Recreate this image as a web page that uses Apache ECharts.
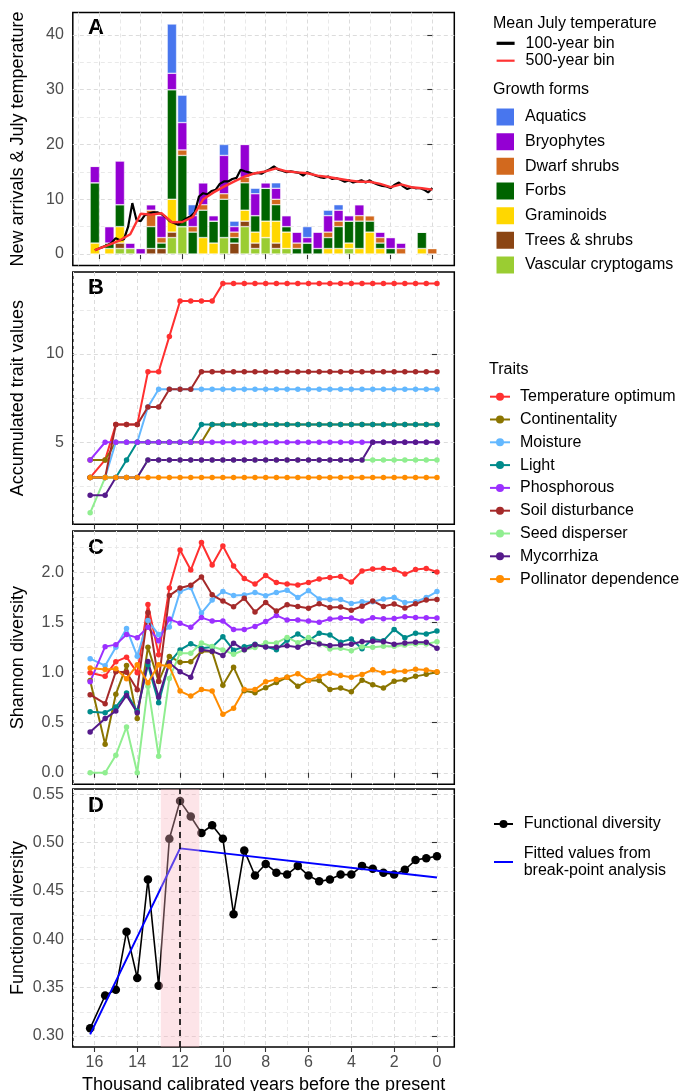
<!DOCTYPE html>
<html><head><meta charset="utf-8">
<script src="https://cdn.jsdelivr.net/npm/echarts@6/dist/echarts.min.js"></script>
<style>html,body{margin:0;padding:0;background:#fff}#c{width:679px;height:1091px}</style>
</head><body><div id="c"></div>
<script>
// ---------- DATA ----------
const ages = [16.2,15.5,15,14.5,14,13.5,13,12.5,12,11.5,11,10.5,10,9.5,9,8.5,8,7.5,7,6.5,6,5.5,5,4.5,4,3.5,3,2.5,2,1.5,1,0.5,0];

// Panel A: new arrivals per growth form
const vascularCryptogams = [0,0,1,1,0,0,0,3,5,0,0,0,3,0,5,1,3,1,1,0,0,0,0,0,1,0,0,0,0,0,0,0,0];
const treesShrubs        = [0,0,1,0,0,1,1,1,0,0,0,0,0,2,1,1,0,1,0,0,0,0,0,0,0,0,0,0,0,0,0,0,0];
const graminoids         = [2,1,3,0,0,0,0,6,0,0,3,2,0,0,2,2,3,4,3,0,0,0,1,1,1,1,4,1,0,0,0,1,0];
const forbs              = [11,1,4,0,0,4,1,20,13,4,5,4,7,1,5,3,6,3,1,1,2,1,2,4,4,5,2,1,1,0,0,3,0];
const dwarfShrubs        = [0,0,0,0,0,3,1,0,1,1,1,0,1,1,1,0,0,1,0,1,0,0,1,1,0,1,1,1,0,1,0,0,1];
const bryophytes         = [3,3,8,1,1,1,4,3,5,2,4,1,7,1,6,4,1,2,2,2,1,3,3,2,1,2,0,1,2,1,0,0,0];
const aquatics           = [0,0,0,0,0,0,0,9,5,2,0,0,2,1,0,1,0,1,0,0,2,0,1,1,0,0,0,0,0,0,0,0,0];

// Mean July temperature
const temp500 = [0.7,1.7,2.5,3.6,7.35,7.2,7.45,5.8,5.85,6.75,10.0,11.25,12.3,13.25,14.15,14.75,15.1,15.65,15.1,14.9,14.75,14.3,14.05,13.75,13.45,13.2,13.2,12.8,12.2,12.7,12.2,12.0,11.75];
const temp100Age = [16.2,16,15.8,15.6,15.4,15.2,15,14.8,14.6,14.4,14.2,14,13.8,13.6,13.4,13.2,13,12.8,12.6,12.4,12.2,12,11.8,11.6,11.4,11.2,11,10.8,10.6,10.4,10.2,10,9.8,9.6,9.4,9.2,9,8.8,8.6,8.4,8.2,8,7.8,7.6,7.4,7.2,7,6.8,6.6,6.4,6.2,6,5.8,5.6,5.4,5.2,5,4.8,4.6,4.4,4.2,4,3.8,3.6,3.4,3.2,3,2.8,2.6,2.4,2.2,2,1.8,1.6,1.4,1.2,1,0.8,0.6,0.4,0.2,0];
const temp100 = [0.67,1.0,1.3,1.6,2.0,2.9,2.5,2.7,5.0,9.3,6.2,6.0,7.1,7.4,7.6,7.6,7.3,6.75,6.0,5.65,5.35,6.0,6.5,6.9,7.6,10.5,11.1,10.9,11.5,11.7,12.8,13.25,13.25,13.7,13.9,15.4,15.1,14.9,14.65,14.8,14.65,15.1,15.5,16.0,15.4,15.2,14.95,15.1,14.95,14.8,14.3,14.95,14.6,14.3,14.05,13.9,14.15,13.7,13.85,13.55,13.2,13.45,13.05,13.25,13.45,13.05,13.45,12.95,12.65,12.45,12.35,12.05,12.65,13.05,12.35,11.85,12.2,12.0,12.05,11.75,11.25,12.05];

// Panel B: accumulated trait values
const accTemp   = [3,4,6,6,6,9,9,11,13,13,13,13,14,14,14,14,14,14,14,14,14,14,14,14,14,14,14,14,14,14,14,14,14];
const accCont   = [4,4,5,5,5,5,5,5,5,5,5,6,6,6,6,6,6,6,6,6,6,6,6,6,6,6,6,6,6,6,6,6,6];
const accMoist  = [3,3,5,5,5,7,8,8,8,8,8,8,8,8,8,8,8,8,8,8,8,8,8,8,8,8,8,8,8,8,8,8,8];
const accLight  = [3,3,3,4,5,5,5,5,5,5,6,6,6,6,6,6,6,6,6,6,6,6,6,6,6,6,6,6,6,6,6,6,6];
const accPhos   = [4,5,5,5,5,5,5,5,5,5,5,5,5,5,5,5,5,5,5,5,5,5,5,5,5,5,5,5,5,5,5,5,5];
const accSoil   = [3,3,6,6,6,7,7,8,8,8,9,9,9,9,9,9,9,9,9,9,9,9,9,9,9,9,9,9,9,9,9,9,9];
const accSeed   = [1,3,3,3,3,4,4,4,4,4,4,4,4,4,4,4,4,4,4,4,4,4,4,4,4,4,4,4,4,4,4,4,4];
const accMyco   = [2,2,3,3,3,4,4,4,4,4,4,4,4,4,4,4,4,4,4,4,4,4,4,4,4,4,5,5,5,5,5,5,5];
const accPoll   = [3,3,3,3,3,3,3,3,3,3,3,3,3,3,3,3,3,3,3,3,3,3,3,3,3,3,3,3,3,3,3,3,3];

// Panel C: Shannon diversity
const shTemp  = [1.0,0.965,1.11,1.155,1.0,1.68,1.18,1.845,2.225,2.025,2.3,2.075,2.265,2.065,1.94,1.885,1.97,1.90,1.885,1.875,1.90,1.935,1.95,1.96,1.905,2.015,2.035,2.04,2.03,1.985,2.03,2.04,2.005];
const shCont  = [0.922,0.285,0.785,1.071,0.541,1.254,0.913,1.162,1.105,1.108,1.215,1.21,0.875,1.055,0.82,0.80,0.85,0.902,0.953,0.864,0.922,0.922,0.832,0.846,0.81,0.925,0.879,0.846,0.915,0.93,0.963,0.983,1.005];
const shMoist = [1.14,1.07,1.255,1.44,1.165,1.52,1.38,1.455,1.81,1.85,1.595,1.725,1.81,1.77,1.775,1.80,1.768,1.80,1.824,1.75,1.818,1.735,1.73,1.73,1.69,1.708,1.708,1.735,1.75,1.70,1.708,1.75,1.81];
const shLight = [0.61,0.60,0.657,0.796,0.615,1.08,0.70,1.10,1.227,1.29,1.245,1.257,1.36,1.224,1.26,1.283,1.26,1.228,1.325,1.386,1.32,1.393,1.376,1.305,1.337,1.24,1.337,1.32,1.432,1.35,1.393,1.386,1.416];
const shPhos  = [0.91,1.26,1.28,1.38,1.35,1.453,1.32,1.535,1.493,1.453,1.55,1.515,1.515,1.43,1.43,1.462,1.511,1.572,1.525,1.526,1.516,1.503,1.536,1.546,1.546,1.516,1.549,1.539,1.542,1.559,1.552,1.549,1.546];
const shSoil  = [0.78,0.69,1.01,1.005,0.83,1.6,0.915,1.77,1.845,1.874,1.955,1.778,1.715,1.658,1.743,1.607,1.70,1.615,1.678,1.66,1.644,1.688,1.65,1.655,1.624,1.664,1.716,1.662,1.685,1.645,1.688,1.725,1.73];
const shSeed  = [0,0,0.175,0.458,0,0.865,0.166,0.942,1.195,1.194,1.297,1.262,1.227,1.184,1.227,1.252,1.298,1.297,1.352,1.30,1.352,1.295,1.237,1.244,1.22,1.26,1.254,1.264,1.264,1.277,1.287,1.287,1.31];
const shMyco  = [0.408,0.541,0.617,0.773,0.60,1.111,0.756,1.10,1.008,0.955,1.228,1.215,1.171,1.295,1.229,1.278,1.257,1.254,1.27,1.254,1.30,1.287,1.272,1.277,1.283,1.312,1.315,1.31,1.285,1.297,1.305,1.303,1.245];
const shPoll  = [1.046,1.032,1.038,0.939,1.078,0.899,1.078,1.063,0.816,0.766,0.832,0.816,0.584,0.644,0.832,0.832,0.91,0.932,0.953,0.99,0.922,0.965,0.995,0.972,0.955,0.982,1.03,0.998,1.015,1.013,1.035,1.027,1.01];

// Panel D: functional diversity and break-point fit
const funcDiv = [0.308,0.342,0.348,0.408,0.360,0.462,0.352,0.504,0.543,0.527,0.510,0.518,0.504,0.426,0.492,0.466,0.478,0.469,0.467,0.476,0.466,0.460,0.462,0.467,0.467,0.476,0.473,0.469,0.467,0.472,0.482,0.484,0.486];
const fittedAge = [16.2,12,0];
const fittedVal = [0.3017,0.4941,0.4641];
const breakPoint = 12;
const breakCI = [11.1,12.9];

// Tick labels
const xTicks = [0,2,4,6,8,10,12,14,16];
const xGridVals = [0,1,2,3,4,5,6,7,8,9,10,11,12,13,14,15,16,17];
const yTicksA = [0,10,20,30,40];
const yTicksB = [5,10];
const yTicksC = [0,0.5,1,1.5,2];
const yTicksD = [0.30,0.35,0.40,0.45,0.50,0.55];
const yGridA = [0,5,10,15,20,25,30,35,40];
const yGridB = [2.5,5,7.5,10,12.5];
const yGridC = [0,0.25,0.5,0.75,1,1.25,1.5,1.75,2,2.25];
const yGridD = [0.30,0.325,0.35,0.375,0.40,0.425,0.45,0.475,0.50,0.525,0.55];

const traitNames = ['Temperature optimum','Continentality','Moisture','Light','Phosphorous','Soil disturbance','Seed disperser','Mycorrhiza','Pollinator dependence'];
const traitColors = ['#FF3030','#8B7500','#63B8FF','#008B8B','#9B30FF','#A52A2A','#90EE90','#551A8B','#FF8C00'];
const accData = [accTemp,accCont,accMoist,accLight,accPhos,accSoil,accSeed,accMyco,accPoll];
const shData = [shTemp,shCont,shMoist,shLight,shPhos,shSoil,shSeed,shMyco,shPoll];

const growthNames = ['Vascular cryptogams','Trees & shrubs','Graminoids','Forbs','Dwarf shrubs','Bryophytes','Aquatics'];
const growthColors = ['#9ACD32','#8B4513','#FFD700','#006400','#D2691E','#9400D3','#4876EE'];
const growthData = [vascularCryptogams,treesShrubs,graminoids,forbs,dwarfShrubs,bryophytes,aquatics];

// ---------- LAYOUT ----------
const FONT = 'Liberation Sans, Arial, Helvetica, sans-serif';
const MAJ = '#dcdcdc', MIN = '#e9e9e9';
const GL = 72.8, GW = 381.5;
const pTop = [12.5, 272, 531, 789];
const pBot = [265.5, 524.3, 784.3, 1047];
const xRanges = [[-1.0575,17.2575],[-0.81,17.01],[-0.81,17.01],[-0.81,17.01]];
const yRanges = [[-2.1,44.1],[0.35,14.65],[-0.115,2.415],[0.2887,0.5555]];
const yTicks = [yTicksA,yTicksB,yTicksC,yTicksD];
const yGrids = [yGridA,yGridB,yGridC,yGridD];
const yGridCol = [[MAJ,MIN],[MIN,MAJ],[MAJ,MIN],[MAJ,MIN]];
const yFmt = [v=>String(v), v=>String(v), v=>Number(v).toFixed(1), v=>Number(v).toFixed(2)];

const grids = [], xAxes = [], yAxes = [];
for (let k = 0; k < 4; k++) {
  grids.push({left: GL, width: GW, top: pTop[k], height: pBot[k]-pTop[k], show: true,
    borderColor: '#000', borderWidth: 1.5, backgroundColor: '#fff', outerBoundsMode: 'none'});
  const xr = xRanges[k];
  xAxes.push({gridIndex: k, type: 'value', min: xr[0], max: xr[1], inverse: true, position: 'bottom',
    axisLine: {show: false}, axisLabel: {show: false},
    axisTick: {show: false, customValues: xGridVals},
    splitLine: {show: true, lineStyle: {color: [MAJ, MIN], type: [4,3], width: 1}}});
  xAxes.push({gridIndex: k, type: 'value', min: xr[0], max: xr[1], inverse: true, position: 'bottom',
    axisLine: {show: false}, splitLine: {show: false},
    axisTick: {show: true, length: 5, customValues: xTicks, lineStyle: {color: '#333', width: 1.1}},
    axisLabel: {show: k === 3, customValues: xTicks, margin: 8, fontSize: 16, color: '#4d4d4d', fontFamily: FONT}});
  const yr = yRanges[k];
  yAxes.push({gridIndex: k, type: 'value', min: yr[0], max: yr[1], position: 'left',
    axisLine: {show: false}, axisLabel: {show: false},
    axisTick: {show: false, customValues: yGrids[k]},
    splitLine: {show: true, lineStyle: {color: yGridCol[k], type: [4,3], width: 1}}});
  yAxes.push({gridIndex: k, type: 'value', min: yr[0], max: yr[1], position: 'left',
    axisLine: {show: false}, splitLine: {show: false},
    axisTick: {show: true, length: 5, customValues: yTicks[k], lineStyle: {color: '#333', width: 1.1}},
    axisLabel: {show: true, customValues: yTicks[k], margin: 9, fontSize: 16, color: '#4d4d4d', fontFamily: FONT, formatter: yFmt[k]}});
}

const series = [];
// Panel A stacked bars (value first so the stack runs along y)
growthData.forEach((arr, i) => {
  series.push({name: growthNames[i], type: 'bar', stack: 'gf', xAxisIndex: 0, yAxisIndex: 0,
    encode: {x: 1, y: 0},
    barWidth: 9.4, itemStyle: {color: growthColors[i], borderColor: '#fff', borderWidth: 0.5},
    data: ages.map((a, j) => [arr[j], a]), z: 2});
});
series.push({name: '100-year bin', type: 'line', xAxisIndex: 0, yAxisIndex: 0, symbol: 'none',
  lineStyle: {color: '#000', width: 2.2}, itemStyle: {color: '#000'},
  data: temp100Age.map((a, j) => [a, temp100[j]]), z: 3});
series.push({name: '500-year bin', type: 'line', xAxisIndex: 0, yAxisIndex: 0, symbol: 'none',
  lineStyle: {color: '#FF3333', width: 2.4}, itemStyle: {color: '#FF3333'},
  data: ages.map((a, j) => [a, temp500[j]]), z: 4});
// Panel B & C
[accData, shData].forEach((set, p) => {
  const axIdx = p === 0 ? 2 : 4;
  set.forEach((arr, i) => {
    series.push({name: traitNames[i], type: 'line', xAxisIndex: axIdx, yAxisIndex: axIdx,
      symbol: 'circle', symbolSize: 5.5, lineStyle: {color: traitColors[i], width: 2}, itemStyle: {color: traitColors[i]},
      data: ages.map((a, j) => [a, arr[j]]), z: 3});
  });
});
// Panel D
series.push({name: 'Functional diversity', type: 'line', xAxisIndex: 6, yAxisIndex: 6,
  symbol: 'circle', symbolSize: 8.5, lineStyle: {color: '#000', width: 1.6}, itemStyle: {color: '#000'},
  data: ages.map((a, j) => [a, funcDiv[j]]), z: 3});
series.push({name: 'Fitted values from\nbreak-point analysis', type: 'line', xAxisIndex: 6, yAxisIndex: 6,
  symbol: 'none', lineStyle: {color: '#0000FF', width: 2}, itemStyle: {color: '#0000FF'},
  data: fittedAge.map((a, j) => [a, fittedVal[j]]), z: 4});
series.push({name: 'breakpoint', type: 'line', xAxisIndex: 6, yAxisIndex: 6, data: [], z: 6, silent: true,
  markArea: {silent: true, z: 10, itemStyle: {color: 'rgba(250,180,190,0.36)'}, data: [[{xAxis: breakCI[1]}, {xAxis: breakCI[0]}]]},
  markLine: {silent: true, z: 11, symbol: ['none','none'], label: {show: false},
    lineStyle: {color: '#000', type: [6,5], width: 1.6}, data: [{xAxis: breakPoint}]}});

const lgText = {fontSize: 16, color: '#000', fontFamily: FONT};
const noSym = {opacity: 0};
const legends = [
  {data: [{name: '100-year bin', itemStyle: noSym, lineStyle: {width: 3.2, color: '#000'}},
          {name: '500-year bin', itemStyle: noSym, lineStyle: {width: 2.2, color: '#FF3333'}}],
   left: 495, top: 34.6, orient: 'vertical', padding: 0,
   itemWidth: 18, itemHeight: 6, itemGap: 0, textStyle: Object.assign({lineHeight: 17.4, padding: [0,0,0,6]}, lgText)},
  {data: ['Aquatics','Bryophytes','Dwarf shrubs','Forbs','Graminoids','Trees & shrubs','Vascular cryptogams'],
   left: 494.5, top: 106.5, orient: 'vertical', padding: 0, icon: 'rect',
   itemWidth: 19.5, itemHeight: 19, itemGap: 3.67, textStyle: Object.assign({lineHeight: 19, padding: [0,0,0,5]}, lgText)},
  {data: traitNames, left: 489, top: 387.7, orient: 'vertical', padding: 0,
   itemWidth: 20, itemHeight: 10, itemGap: 4.8, textStyle: Object.assign({lineHeight: 18, padding: [0,0,0,5]}, lgText)},
  {data: ['Functional diversity', {name: 'Fitted values from\nbreak-point analysis', itemStyle: noSym}],
   left: 493, top: 815.3, orient: 'vertical', padding: 0,
   itemWidth: 19, itemHeight: 10, itemGap: 11.9, textStyle: Object.assign({lineHeight: 17.4, padding: [0,0,0,5.7]}, lgText)}
];

function txt(x, y, text, size, opts) {
  return Object.assign({type: 'text', x: x, y: y, silent: true,
    style: Object.assign({text: text, fontSize: size, fontFamily: FONT, fill: '#000',
      align: 'left', verticalAlign: 'middle'}, (opts && opts.style) || {})},
    (opts && opts.el) || {});
}
const center = {align: 'center'};
const graphics = [
  txt(88, 28, 'A', 22, {style: {fontWeight: 'bold'}}),
  txt(88, 287.5, 'B', 22, {style: {fontWeight: 'bold'}}),
  txt(88, 548, 'C', 22, {style: {fontWeight: 'bold'}}),
  txt(88, 805.5, 'D', 22, {style: {fontWeight: 'bold'}}),
  txt(18.3, (pTop[0]+pBot[0])/2, 'New arrivals & July temperature', 18, {style: center, el: {rotation: Math.PI/2}}),
  txt(18.3, (pTop[1]+pBot[1])/2, 'Accumulated trait values', 18, {style: center, el: {rotation: Math.PI/2}}),
  txt(18.3, (pTop[2]+pBot[2])/2, 'Shannon diversity', 18, {style: center, el: {rotation: Math.PI/2}}),
  txt(18.3, (pTop[3]+pBot[3])/2, 'Functional diversity', 18, {style: center, el: {rotation: Math.PI/2}}),
  txt(GL + GW/2, 1085, 'Thousand calibrated years before the present', 18, {style: center}),
  txt(493, 24, 'Mean July temperature', 16),
  txt(493, 89.3, 'Growth forms', 16),
  txt(489, 370, 'Traits', 16)
];

const chart = echarts.init(document.getElementById('c'), null, {renderer: 'canvas'});
chart.setOption({
  animation: false,
  backgroundColor: '#fff',
  textStyle: {fontFamily: FONT},
  grid: grids, xAxis: xAxes, yAxis: yAxes,
  legend: legends, series: series, graphic: graphics
});
</script></body></html>
